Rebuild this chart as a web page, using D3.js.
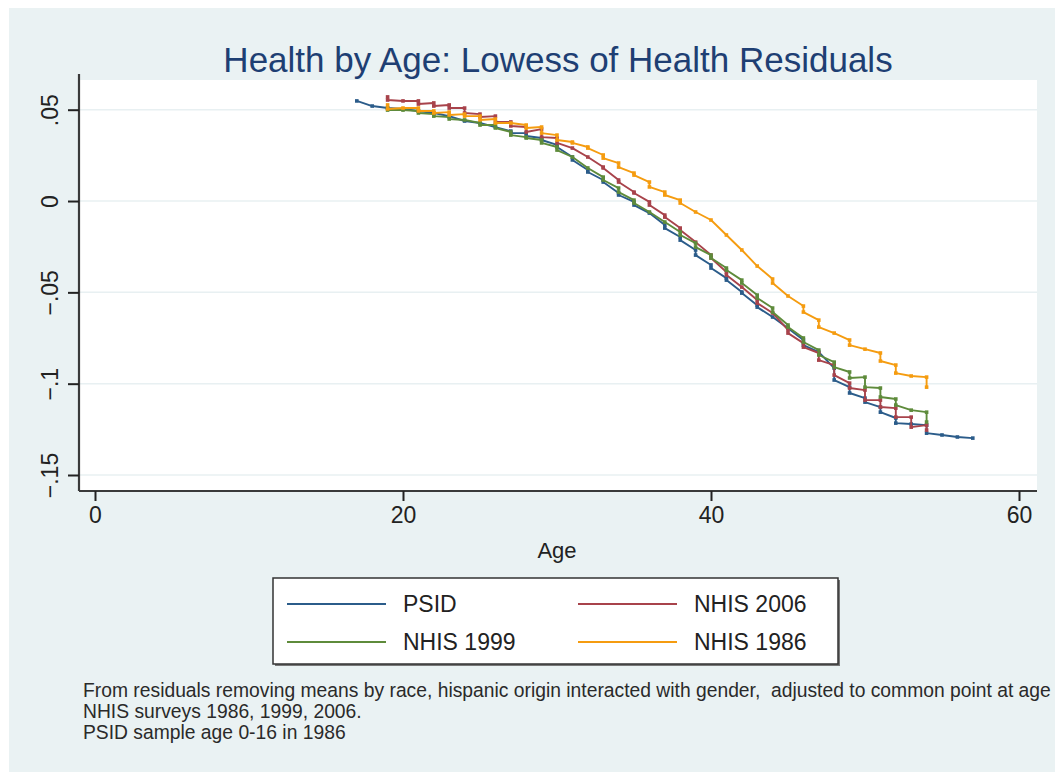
<!DOCTYPE html>
<html>
<head>
<meta charset="utf-8">
<script src="https://cdn.jsdelivr.net/npm/d3@7"></script>
<style>
  body { margin: 0; background: #fff; }
  svg text { font-family: "Liberation Sans", Arial, sans-serif; }
</style>
</head>
<body>
<div id="chart"></div>
<script>
// ---- data ----
const titleText = 'Health by Age: Lowess of Health Residuals';
const xLabel = 'Age';
const xTicks = [0, 20, 40, 60];
const yTicks = [-0.15, -0.1, -0.05, 0, 0.05];
const seriesNames = ['PSID', 'NHIS 2006', 'NHIS 1999', 'NHIS 1986'];
const notes = [
  'From residuals removing means by race, hispanic origin interacted with gender,  adjusted to common point at age',
  'NHIS surveys 1986, 1999, 2006.',
  'PSID sample age 0-16 in 1986'
];

// each series: first age, then value where the line arrives at an age (hi) and after the drop (lo)
const psidStart = 17;
const psidHi = [0.0548, 0.0520, 0.0509, 0.0504, 0.0493, 0.0482, 0.0465, 0.0438, 0.0427, 0.0405,
  0.0383, 0.0372, 0.0345, 0.0307, 0.0241, 0.0170, 0.0115, 0.0044, -0.0005, -0.0066,
  -0.0131, -0.0197, -0.0268, -0.0350, -0.0422, -0.0498, -0.0570, -0.0635, -0.0696, -0.0761,
  -0.0827, -0.0915, -0.1019, -0.1079, -0.1128, -0.1188, -0.1221, -0.1227, -0.1281, -0.1292, -0.1298];
const psidLo = [0.0548, 0.0520, 0.0509, 0.0504, 0.0493, 0.0482, 0.0465, 0.0438, 0.0427, 0.0405,
  0.0372, 0.0356, 0.0334, 0.0296, 0.0225, 0.0159, 0.0104, 0.0033, -0.0022, -0.0066,
  -0.0148, -0.0214, -0.0296, -0.0367, -0.0433, -0.0504, -0.0581, -0.0635, -0.0696, -0.0789,
  -0.0827, -0.0980, -0.1051, -0.1101, -0.1156, -0.1216, -0.1221, -0.1271, -0.1281, -0.1292, -0.1298];

const nhis06Start = 19;
const nhis06Hi = [0.0570, 0.0548, 0.0548, 0.0537, 0.0526, 0.0509, 0.0476, 0.0465, 0.0433, 0.0405,
  0.0394, 0.0345, 0.0290, 0.0241, 0.0186, 0.0115, 0.0049, -0.0005, -0.0077, -0.0148,
  -0.0225, -0.0296, -0.0389, -0.0471, -0.0542, -0.0613, -0.0706, -0.0778, -0.0832, -0.0898,
  -0.0997, -0.1035, -0.1090, -0.1134, -0.1183, -0.1227];
const nhis06Lo = [0.0553, 0.0548, 0.0531, 0.0520, 0.0509, 0.0482, 0.0460, 0.0433, 0.0411, 0.0378,
  0.0350, 0.0318, 0.0290, 0.0241, 0.0181, 0.0104, 0.0044, -0.0022, -0.0088, -0.0159,
  -0.0225, -0.0312, -0.0405, -0.0471, -0.0559, -0.0613, -0.0723, -0.0800, -0.0871, -0.0953,
  -0.1024, -0.1090, -0.1128, -0.1183, -0.1238, -0.1254];

const nhis99Start = 19;
const nhis99Hi = [0.0509, 0.0498, 0.0493, 0.0476, 0.0460, 0.0444, 0.0427, 0.0416, 0.0378, 0.0350,
  0.0334, 0.0296, 0.0241, 0.0181, 0.0131, 0.0071, 0.0005, -0.0060, -0.0115, -0.0170,
  -0.0230, -0.0296, -0.0367, -0.0433, -0.0515, -0.0586, -0.0679, -0.0750, -0.0816, -0.0882,
  -0.0936, -0.0964, -0.1024, -0.1084, -0.1145, -0.1156];
const nhis99Lo = [0.0498, 0.0498, 0.0482, 0.0465, 0.0449, 0.0444, 0.0416, 0.0400, 0.0361, 0.0345,
  0.0318, 0.0279, 0.0241, 0.0181, 0.0115, 0.0049, -0.0011, -0.0060, -0.0115, -0.0186,
  -0.0252, -0.0312, -0.0378, -0.0449, -0.0531, -0.0608, -0.0690, -0.0772, -0.0843, -0.0909,
  -0.0969, -0.1019, -0.1073, -0.1117, -0.1145, -0.1210];

const nhis86Start = 19;
const nhis86Hi = [0.0526, 0.0509, 0.0509, 0.0493, 0.0487, 0.0476, 0.0465, 0.0449, 0.0427, 0.0416,
  0.0405, 0.0361, 0.0323, 0.0296, 0.0252, 0.0208, 0.0153, 0.0104, 0.0049, 0.0005,
  -0.0060, -0.0104, -0.0186, -0.0268, -0.0356, -0.0427, -0.0520, -0.0575, -0.0652, -0.0723,
  -0.0761, -0.0811, -0.0832, -0.0898, -0.0958, -0.0964];
const nhis86Lo = [0.0504, 0.0509, 0.0493, 0.0482, 0.0471, 0.0465, 0.0444, 0.0427, 0.0427, 0.0400,
  0.0372, 0.0334, 0.0318, 0.0290, 0.0235, 0.0186, 0.0142, 0.0077, 0.0033, -0.0011,
  -0.0060, -0.0104, -0.0186, -0.0268, -0.0356, -0.0449, -0.0520, -0.0608, -0.0690, -0.0723,
  -0.0789, -0.0811, -0.0876, -0.0942, -0.0958, -0.1019];

const seriesColors = ['#2b5c8a', '#a8434b', '#5e8b3b', '#f59c10'];

// ---- layout ----
const W = 1055, H = 772;
const plot = {left: 80, right: 1037, top: 80, bottom: 491};
const bgColor = '#eaf2f3';

const svg = d3.select('#chart')
  .append('svg')
    .attr('width', W)
    .attr('height', H);

// outer graph region
svg.append('rect')
  .attr('x', 9).attr('y', 8)
  .attr('width', W - 9).attr('height', H - 8)
  .style('fill', bgColor);

// plot region
svg.append('rect')
  .attr('x', plot.left).attr('y', plot.top)
  .attr('width', plot.right - plot.left).attr('height', plot.bottom - plot.top)
  .style('fill', '#fff');

// scales
const xScale = d3.scaleLinear().domain([0, 60]).range([95, 1019]);
const yScale = d3.scaleLinear().domain([-0.15, 0.05]).range([475, 109.7]);

// grid
svg.append('g')
  .selectAll('line')
  .data(yTicks)
  .enter()
  .append('line')
    .attr('x1', plot.left).attr('x2', plot.right)
    .attr('y1', d => yScale(d)).attr('y2', d => yScale(d))
    .style('stroke', '#e8f0f2')
    .style('stroke-width', 1.5);

// axes
const yFmt = d => d === 0 ? '0' : d3.format('.2~f')(d).replace('0.', '.');

const yAxis = svg.append('g')
  .attr('transform', `translate(${plot.left - 1},0)`)
  .call(d3.axisLeft(yScale).tickValues(yTicks).tickFormat(yFmt).tickSize(11).tickSizeOuter(0));
yAxis.select('.domain').attr('d', `M0,${plot.top - 6}V${plot.bottom}`);

const xAxis = svg.append('g')
  .attr('transform', `translate(0,${plot.bottom})`)
  .call(d3.axisBottom(xScale).tickValues(xTicks).tickSize(10).tickSizeOuter(0));
xAxis.select('.domain').attr('d', `M${plot.left - 1},0H${plot.right}`);

[yAxis, xAxis].forEach(ax => {
  ax.select('.domain').style('stroke', '#3a3a3a').style('stroke-width', 2.2);
  ax.selectAll('.tick line').style('stroke', '#222').style('stroke-width', 2);
  ax.selectAll('.tick text')
    .style('font-size', '23px')
    .style('fill', '#222');
});

// y tick labels rotated like Stata
yAxis.selectAll('.tick text')
  .attr('x', null).attr('dy', null)
  .attr('text-anchor', 'middle')
  .attr('transform', 'translate(-21,0) rotate(-90)');

xAxis.selectAll('.tick text').attr('y', 16).attr('dy', '0.71em');

// axis label
svg.append('text')
  .attr('x', xScale(30))
  .attr('y', 558)
  .attr('text-anchor', 'middle')
  .style('font-size', '22px')
  .style('fill', '#222')
  .text(xLabel);

// title
svg.append('text')
  .attr('x', 558)
  .attr('y', 72)
  .attr('text-anchor', 'middle')
  .style('font-size', '35px')
  .style('fill', '#1e3f73')
  .text(titleText);

// ---- series ----
function buildPoints(start, hi, lo) {
  const pts = [];
  hi.forEach((v, i) => {
    pts.push({age: start + i, v: v});
    if (lo[i] !== v) pts.push({age: start + i, v: lo[i]});
  });
  return pts;
}

const seriesData = [
  buildPoints(psidStart, psidHi, psidLo),
  buildPoints(nhis06Start, nhis06Hi, nhis06Lo),
  buildPoints(nhis99Start, nhis99Hi, nhis99Lo),
  buildPoints(nhis86Start, nhis86Hi, nhis86Lo)
];

const line = d3.line()
  .x(d => xScale(d.age))
  .y(d => yScale(d.v));

const mk = 3.6;
seriesData.forEach((pts, s) => {
  const g = svg.append('g');
  g.append('path')
    .datum(pts)
    .attr('d', line)
    .style('fill', 'none')
    .style('stroke', seriesColors[s])
    .style('stroke-width', 1.9)
    .style('stroke-linejoin', 'round');
  g.selectAll('rect')
    .data(pts)
    .enter()
    .append('rect')
      .attr('x', d => xScale(d.age) - mk / 2)
      .attr('y', d => yScale(d.v) - mk / 2)
      .attr('width', mk).attr('height', mk)
      .style('fill', seriesColors[s]);
});

// ---- legend ----
const leg = {x: 273, y: 578, w: 565, h: 86};
svg.append('rect')
  .attr('x', leg.x + 2).attr('y', leg.y + 2)
  .attr('width', leg.w).attr('height', leg.h)
  .style('fill', '#777');
svg.append('rect')
  .attr('x', leg.x).attr('y', leg.y)
  .attr('width', leg.w).attr('height', leg.h)
  .style('fill', '#fff')
  .style('stroke', '#333')
  .style('stroke-width', 1.5);

const legCols = [287, 578];
const legRows = [604, 642];
seriesNames.forEach((name, i) => {
  const cx = legCols[i % 2], cy = legRows[Math.floor(i / 2)];
  svg.append('line')
    .attr('x1', cx).attr('x2', cx + 99)
    .attr('y1', cy).attr('y2', cy)
    .style('stroke', seriesColors[i])
    .style('stroke-width', 2);
  svg.append('text')
    .attr('x', cx + 116)
    .attr('y', cy + 8)
    .style('font-size', '23px')
    .style('fill', '#222')
    .text(name);
});

// ---- notes ----
svg.append('g')
  .selectAll('text')
  .data(notes)
  .enter()
  .append('text')
    .attr('x', 83)
    .attr('y', (d, i) => 697 + i * 21)
    .style('font-size', '19.3px')
    .style('fill', '#2a2a2a')
    .style('white-space', 'pre')
    .text(d => d);
</script>
</body>
</html>
